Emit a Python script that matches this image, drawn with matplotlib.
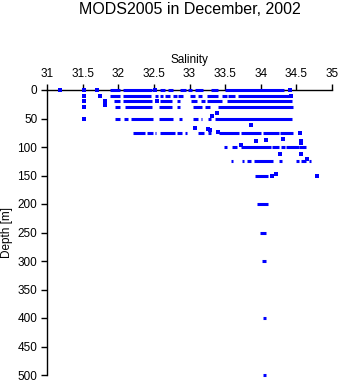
import numpy as np
import matplotlib
matplotlib.use('Agg')
import matplotlib.pyplot as plt

plt.rcParams['font.family'] = ['Liberation Sans', 'DejaVu Sans']

# runs of closely spaced observations: depth [m], salinity start, salinity end
seg_depth = [0, 0, 0, 0, 0, 0, 0, 0, 0,
             10, 10, 10, 10, 10, 10, 10, 10, 10, 10, 10, 10, 10,
             20, 20, 20, 20, 20, 20, 20, 20,
             30, 30, 30, 30, 30, 30, 30,
             50, 50, 50, 50, 50, 50, 50, 50, 50,
             75, 75, 75, 75, 75, 75, 75, 75, 75, 75, 75, 75,
             100, 100, 100, 100, 100, 100, 100,
             125, 125, 125, 125, 125, 125, 125, 125,
             150, 200, 250, 300, 400, 500]
seg_start = [31.88, 32.06, 32.59, 32.70, 32.87, 32.98, 33.08, 33.30, 33.50,
             31.88, 32.06, 32.52, 32.59, 32.66, 32.77, 32.84, 33.01, 33.12, 33.25, 33.45, 33.54, 33.68,
             31.94, 32.06, 32.59, 32.82, 33.02, 33.16, 33.24, 33.52,
             31.95, 32.10, 32.57, 32.82, 33.05, 33.22, 33.40,
             31.95, 32.08, 32.18, 32.57, 32.85, 33.05, 33.16, 33.26, 33.36,
             32.21, 32.40, 32.52, 32.58, 32.82, 32.93, 33.12, 33.26, 33.41, 33.72, 34.03, 34.27,
             33.48, 33.60, 33.72, 34.16, 34.29, 34.35, 34.54,
             33.58, 33.74, 33.80, 33.90, 34.26, 34.50, 34.57, 34.68,
             33.92, 33.95, 33.99, 34.02, 34.03, 34.03]
seg_end = [32.02, 32.47, 32.65, 32.77, 32.95, 33.03, 33.19, 33.40, 34.32,
           32.02, 32.46, 32.56, 32.63, 32.73, 32.82, 32.91, 33.08, 33.17, 33.40, 33.52, 33.64, 34.39,
           32.02, 32.47, 32.75, 32.87, 33.10, 33.22, 33.45, 34.44,
           32.02, 32.47, 32.75, 32.87, 33.17, 33.29, 34.45,
           32.02, 32.13, 32.49, 32.77, 32.89, 33.12, 33.18, 33.30, 34.44,
           32.38, 32.49, 32.53, 32.80, 32.89, 32.96, 33.20, 33.30, 33.69, 34.00, 34.26, 34.45,
           33.52, 33.67, 34.14, 34.26, 34.34, 34.53, 34.64,
           33.61, 33.77, 33.87, 34.17, 34.30, 34.53, 34.64, 34.71,
           34.10, 34.10, 34.07, 34.08, 34.08, 34.08]

# single observations
pt_depth = [0, 0, 0, 0, 0,
            10, 10, 10,
            20, 20, 20, 27,
            30, 41, 46, 50,
            61, 67, 68, 70, 73,
            75, 86, 87, 90, 90, 93, 97,
            112, 112, 121, 148, 151, 151]
pt_sal = [31.18, 31.52, 31.70, 32.51, 34.41,
          31.52, 31.75, 34.43,
          31.52, 31.82, 32.54, 31.82,
          31.52, 33.38, 33.31, 31.52,
          33.86, 33.08, 33.26, 33.29, 33.40,
          34.55, 34.31, 34.07, 33.93, 34.57, 34.57, 33.72,
          34.27, 34.57, 34.65, 34.21, 34.16, 34.79]

xticks = [31, 31.5, 32, 32.5, 33, 33.5, 34, 34.5, 35]
xtick_labels = ['31', '31.5', '32', '32.5', '33', '33.5', '34', '34.5', '35']
yticks = list(range(0, 501, 50))

W, H = 341, 384
fig = plt.figure(figsize=(W / 100, H / 100), dpi=100)
ax = fig.add_axes([47 / W, 1 - 375 / H, 285 / W, 285 / H])

ax.hlines(seg_depth, seg_start, seg_end, colors='#0000ff', lw=2.2, zorder=3, clip_on=False)
ax.scatter(pt_sal, pt_depth, marker='s', s=6, color='#0000ff', linewidths=0, zorder=3, clip_on=False)

ax.set_xlim(31, 35)
ax.set_ylim(500, 0)
ax.xaxis.tick_top()
ax.xaxis.set_label_position('top')
ax.set_xticks(xticks)
ax.set_xticklabels(xtick_labels)
ax.set_yticks(yticks)
ax.tick_params(axis='both', direction='out', length=4, width=1, labelsize=8.5, pad=3, color='black')
ax.set_xlabel('Salinity', fontsize=8.5, labelpad=4)

for s in ['right', 'bottom']:
    ax.spines[s].set_visible(False)
ax.spines['top'].set_linewidth(1)
ax.spines['left'].set_linewidth(1)

fig.text(7 / W, 1 - 233 / H, 'Depth [m]', rotation=90, ha='center', va='center', fontsize=8.5)
fig.text(189.5 / W, 1 - 10 / H, 'MODS2005 in December, 2002', ha='center', va='center', fontsize=11.5)

fig.savefig('out.png', dpi=100)
